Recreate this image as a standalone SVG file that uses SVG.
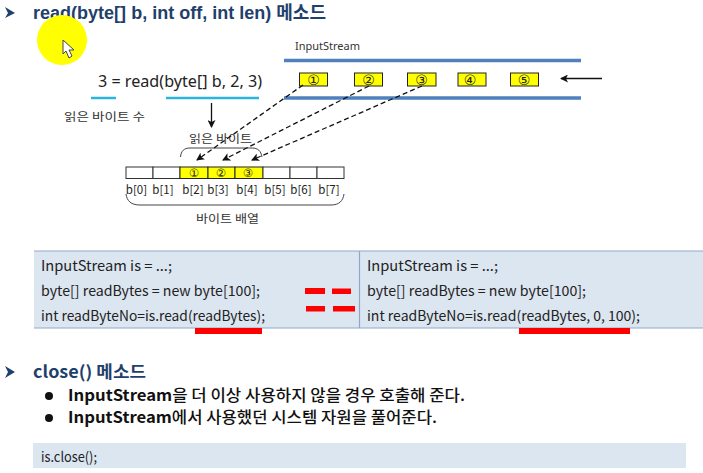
<svg xmlns="http://www.w3.org/2000/svg" width="703" height="473" viewBox="0 0 703 473">
<style>
text{font-family:"Noto Sans CJK KR","Noto Sans",sans-serif}
.h{font-family:"Liberation Sans","Noto Sans CJK KR",sans-serif;font-weight:700;font-size:18px;fill:#1f3f6c}
.l{font-size:11.5px;fill:#333}
.c{font-size:14px;fill:#222}
.b{font-size:15.500px;fill:#111;font-weight:500}
.s{fill:#ff0;stroke:#222;stroke-width:1}
.w{fill:#fff;stroke:#333;stroke-width:1}
.n{font-size:11.500px;fill:#222;text-anchor:middle}
.o{font-size:14px;fill:#222;text-anchor:middle;font-family:"DejaVu Sans",sans-serif}
.p{font-size:11.500px;fill:#222;text-anchor:middle;font-family:"DejaVu Sans",sans-serif}
.rail{stroke:#4f81bd;stroke-width:3.500}
.cy{stroke:#2cb5dc;stroke-width:2.500}
.red{fill:#f00}
.d{stroke:#111;stroke-width:1.300;stroke-dasharray:5 3;fill:none;marker-end:url(#a)}
.brace{fill:none;stroke:#444;stroke-width:1}
</style>
<defs>
<marker id="a" markerWidth="9" markerHeight="8" refX="7" refY="4" orient="auto" markerUnits="userSpaceOnUse"><path d="M0 0L8 4L0 8L2 4Z" fill="#111"/></marker>
</defs>
<rect width="703" height="473" fill="#fff"/>
<g id="title">
<path d="M5 7L15 13L5 18L8 13Z" fill="#1f3f6c"/>
<text class="h" x="33" y="19" textLength="293" lengthAdjust="spacingAndGlyphs">read(byte[] b, int off, int len) 메소드</text>
</g>
<g id="cursor">
<circle cx="62" cy="40" r="25" fill="#ff0"/>
<path d="M63 40V54L66 51L69 58L72 56L69 50H74Z" fill="#fff" stroke="#444"/>
</g>
<g id="call">
<text x="98" y="87" font-size="16" fill="#222" style="font-family:'Noto Sans',sans-serif" textLength="164" lengthAdjust="spacingAndGlyphs">3 = read(byte[]  b, 2, 3)</text>
<line class="cy" x1="91" y1="98" x2="116" y2="98"/>
<line class="cy" x1="166" y1="98" x2="259" y2="98"/>
<text class="l" x="64" y="121" textLength="81" lengthAdjust="spacingAndGlyphs">읽은 바이트 수</text>
</g>
<g id="stream">
<text class="l" x="295" y="50" style="font-family:'Noto Sans',sans-serif" textLength="65" lengthAdjust="spacingAndGlyphs">InputStream</text>
<line class="rail" x1="284" y1="60.500" x2="581" y2="60.500"/>
<line class="rail" x1="284" y1="98" x2="581" y2="98"/>
</g>
<g id="stream-bytes">
<rect class="s" x="299.500" y="73" width="28" height="13"/><text class="o" x="313.500" y="84.500">①</text>
<rect class="s" x="354.500" y="73" width="28" height="13"/><text class="o" x="368.500" y="84.500">②</text>
<rect class="s" x="407.500" y="73" width="28.500" height="13"/><text class="o" x="421.500" y="84.500">③</text>
<rect class="s" x="458" y="73" width="28" height="13"/><text class="o" x="470" y="84.500">④</text>
<rect class="s" x="510.500" y="73" width="28" height="13"/><text class="o" x="524" y="84.500">⑤</text>
</g>
<g id="array">
<text class="l" x="189" y="143" textLength="63" lengthAdjust="spacingAndGlyphs">읽은 바이트</text>
<path class="brace" d="M180.500 157C181 151 184 148 190 148H252C258 148 261 151 262 157"/>
<rect class="w" x="126" y="167" width="27" height="11.500"/>
<rect class="w" x="153" y="167" width="27" height="11.500"/>
<rect class="s" x="180" y="167" width="28" height="11.500"/>
<rect class="s" x="208" y="167" width="27" height="11.500"/>
<rect class="s" x="235" y="167" width="28" height="11.500"/>
<rect class="w" x="263" y="167" width="27" height="11.500"/>
<rect class="w" x="290" y="167" width="27" height="11.500"/>
<rect class="w" x="317" y="167" width="27" height="11.500"/>
<text class="p" x="194" y="177">①</text>
<text class="p" x="221" y="177">②</text>
<text class="p" x="248" y="177">③</text>
<text class="n" x="136.500" y="194">b[0]</text>
<text class="n" x="163" y="194">b[1]</text>
<text class="n" x="193" y="194">b[2]</text>
<text class="n" x="218" y="194">b[3]</text>
<text class="n" x="247" y="194">b[4]</text>
<text class="n" x="275" y="194">b[5]</text>
<text class="n" x="301" y="194">b[6]</text>
<text class="n" x="329" y="194">b[7]</text>
<path class="brace" d="M126 194C127 201 131 205 140 205H331C339 205 343 201 344 194"/>
<text class="l" x="196" y="223" textLength="63" lengthAdjust="spacingAndGlyphs">바이트 배열</text>
</g>
<g id="connectors">
<line x1="211.500" y1="103" x2="211.500" y2="127" stroke="#111" stroke-width="1.300" marker-end="url(#a)"/>
<line x1="602" y1="78.500" x2="561" y2="78.500" stroke="#111" stroke-width="1.300" marker-end="url(#a)"/>
<line class="d" x1="303" y1="85" x2="197" y2="160"/>
<line class="d" x1="369" y1="86" x2="223" y2="160"/>
<line class="d" x1="422" y1="86" x2="252" y2="160"/>
</g>
<g id="code-table">
<rect x="34" y="251" width="669" height="77" fill="#dce6f1"/>
<path d="M34 251H703M34 328H703M359.500 251V328" stroke="#8ea9c8" stroke-width="1.200" fill="none"/>
<text class="c" x="41" y="271" textLength="131" lengthAdjust="spacingAndGlyphs">InputStream is = ...;</text>
<text class="c" x="41" y="296" textLength="219" lengthAdjust="spacingAndGlyphs">byte[] readBytes  =  new byte[100];</text>
<text class="c" x="41" y="321" textLength="224" lengthAdjust="spacingAndGlyphs">int readByteNo=is.read(readBytes);</text>
<text class="c" x="367" y="271" textLength="131" lengthAdjust="spacingAndGlyphs">InputStream is = ...;</text>
<text class="c" x="367" y="296" textLength="219" lengthAdjust="spacingAndGlyphs">byte[] readBytes  =  new byte[100];</text>
<text class="c" x="367" y="321" textLength="273" lengthAdjust="spacingAndGlyphs">int readByteNo=is.read(readBytes,  0,  100);</text>
<rect class="red" x="195" y="328" width="67" height="6"/>
<rect class="red" x="519" y="328" width="111" height="6"/>
<rect class="red" x="305" y="288" width="20" height="6"/>
<rect class="red" x="332" y="288.500" width="19" height="5.500"/>
<rect class="red" x="306" y="306" width="19" height="5.500"/>
<rect class="red" x="333" y="306" width="22" height="5.500"/>
</g>
<g id="close-section">
<path d="M5 366L15 372L5 378L8 372Z" fill="#1f3f6c"/>
<text class="h" x="33" y="378" style="font-family:'Noto Sans CJK KR',sans-serif;font-weight:700;font-size:17px" textLength="113" lengthAdjust="spacingAndGlyphs">close() 메소드</text>
<circle cx="49" cy="396" r="4" fill="#111"/>
<text class="b" x="68" y="401" textLength="397" lengthAdjust="spacingAndGlyphs"><tspan font-weight="700">InputStream</tspan>을 더 이상 사용하지 않을 경우 호출해 준다.</text>
<circle cx="49" cy="418" r="4" fill="#111"/>
<text class="b" x="68" y="423" textLength="369" lengthAdjust="spacingAndGlyphs"><tspan font-weight="700">InputStream</tspan>에서 사용했던 시스템 자원을 풀어준다.</text>
</g>
<g id="close-code">
<rect x="33" y="443" width="653" height="25" fill="#dce6f1"/>
<text class="c" x="41" y="462" textLength="56" lengthAdjust="spacingAndGlyphs">is.close();</text>
</g>
</svg>
